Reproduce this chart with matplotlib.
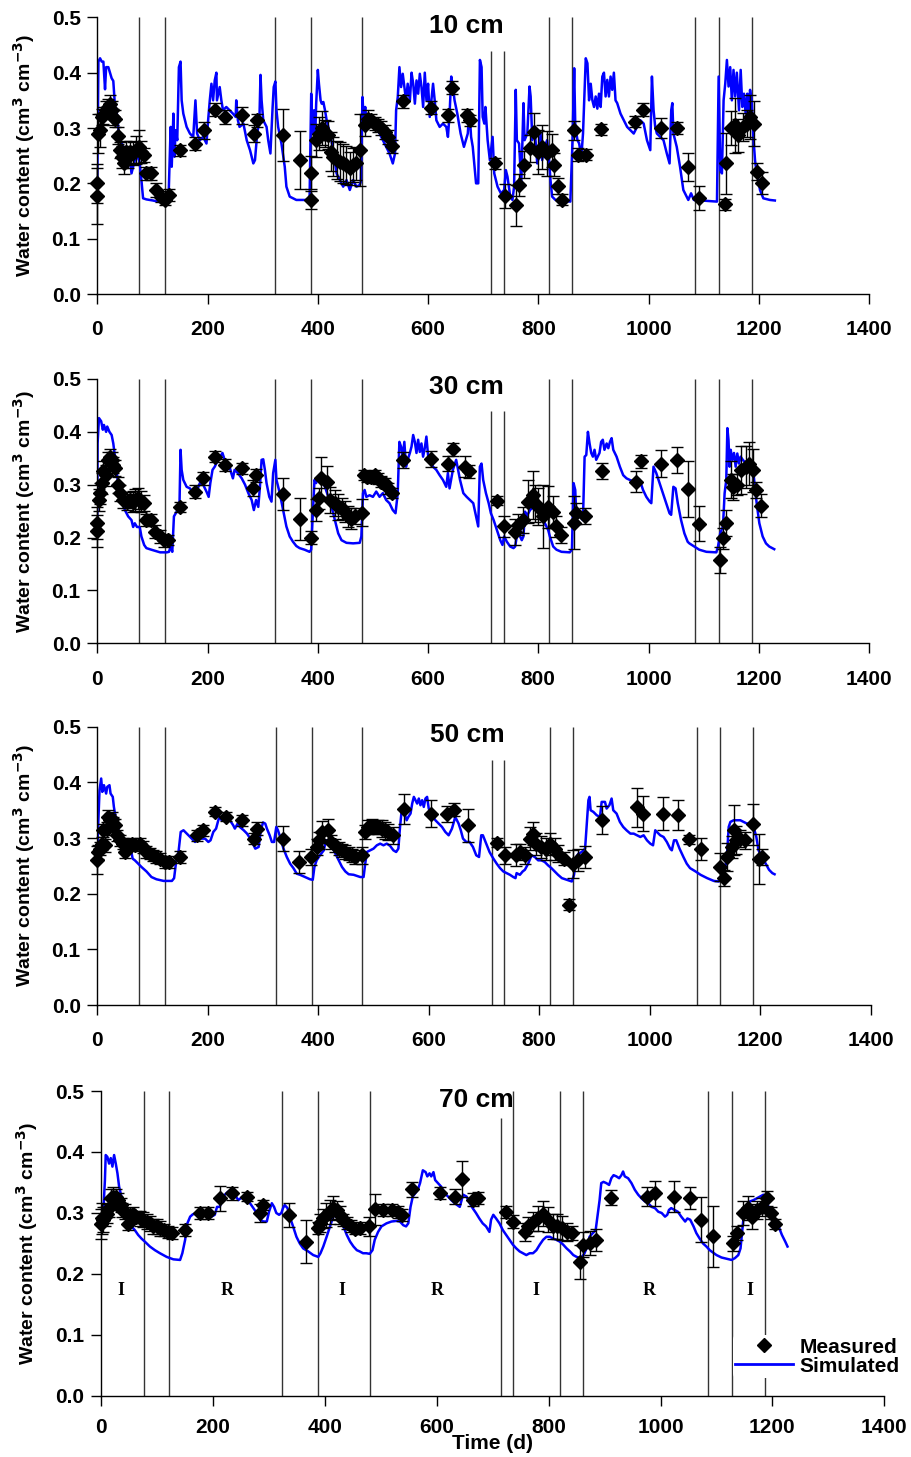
import numpy as np
import matplotlib
matplotlib.use('Agg')
import matplotlib.pyplot as plt
from matplotlib.lines import Line2D

plt.rcParams['font.family'] = ['Liberation Sans', 'DejaVu Sans']
plt.rcParams['font.weight'] = 'bold'

# ---- data ----
depth_labels = ['10 cm', '30 cm', '50 cm', '70 cm']
event_days = [76, 122, 323, 388, 480, 714, 737, 820, 861, 1085, 1128, 1187]
# lines that do not reach the top of a panel: {panel: {day: top}}
short_lines = [{714: 0.44, 737: 0.44}, {714: 0.44, 737: 0.44},
               {714: 0.44, 737: 0.44}, {714: 0.455}]
period_labels = ['I', 'R', 'I', 'R', 'I', 'R', 'I']
period_days = [36, 226, 431, 601, 777, 979, 1159]

sim10 = np.array([(0,0.20),(1,0.30),(2,0.42),(5,0.426),(8,0.42),(11,0.42),(14,0.37),(16,0.41),(20,0.41),(23,0.40),(26,0.39),(29,0.385),(32,0.34),(35,0.33),(38,0.30),(41,0.28),(47,0.266),(53,0.254),(59,0.248),(62,0.218),(68,0.242),(74,0.248),(77,0.236),(80,0.206),(83,0.173),(89,0.171),(101,0.169),(114,0.166),(129,0.166),(133,0.302),(135,0.23),(138,0.326),(140,0.248),(142,0.296),(145,0.278),(148,0.41),(151,0.42),(153,0.35),(156,0.326),(162,0.302),(168,0.29),(174,0.284),(178,0.35),(181,0.29),(186,0.278),(192,0.284),(198,0.272),(201,0.314),(204,0.35),(207,0.38),(210,0.35),(213,0.386),(216,0.40),(217,0.35),(222,0.374),(225,0.35),(228,0.332),(234,0.338),(240,0.332),(246,0.326),(251,0.32),(252,0.35),(255,0.314),(258,0.302),(265,0.308),(271,0.278),(277,0.26),(283,0.236),(286,0.242),(290,0.29),(294,0.314),(296,0.396),(298,0.35),(301,0.314),(307,0.302),(310,0.278),(314,0.254),(318,0.338),(320,0.374),(323,0.384),(325,0.332),(328,0.302),(334,0.272),(340,0.23),(343,0.194),(349,0.176),(361,0.17),(385,0.17),(388,0.362),(390,0.29),(393,0.332),(395,0.278),(397,0.344),(400,0.405),(402,0.38),(405,0.35),(407,0.344),(410,0.347),(413,0.332),(416,0.314),(422,0.29),(428,0.26),(434,0.218),(440,0.206),(446,0.194),(452,0.206),(458,0.188),(464,0.206),(470,0.194),(476,0.197),(478,0.203),(481,0.356),(483,0.32),(486,0.338),(488,0.314),(494,0.32),(500,0.302),(506,0.308),(512,0.29),(518,0.278),(524,0.266),(530,0.254),(536,0.236),(540,0.254),(542,0.332),(545,0.356),(548,0.41),(551,0.374),(554,0.398),(557,0.374),(560,0.35),(563,0.38),(567,0.35),(570,0.40),(573,0.38),(576,0.344),(579,0.386),(582,0.362),(585,0.398),(588,0.374),(591,0.338),(594,0.40),(597,0.35),(600,0.38),(603,0.32),(609,0.38),(612,0.35),(615,0.314),(621,0.302),(627,0.308),(633,0.302),(636,0.284),(639,0.326),(642,0.393),(645,0.374),(648,0.35),(653,0.326),(659,0.29),(665,0.266),(672,0.29),(675,0.332),(678,0.284),(681,0.266),(687,0.20),(691,0.20),(694,0.423),(697,0.41),(699,0.32),(702,0.308),(704,0.338),(708,0.278),(712,0.242),(717,0.284),(720,0.218),(726,0.194),(732,0.182),(738,0.188),(741,0.224),(744,0.212),(749,0.176),(753,0.17),(756,0.194),(759,0.369),(761,0.278),(765,0.272),(769,0.20),(773,0.345),(775,0.278),(780,0.29),(784,0.375),(786,0.357),(789,0.278),(793,0.302),(798,0.236),(801,0.248),(804,0.29),(807,0.242),(811,0.266),(816,0.278),(819,0.248),(822,0.206),(825,0.176),(831,0.17),(858,0.167),(862,0.278),(865,0.408),(867,0.302),(871,0.278),(874,0.272),(878,0.248),(881,0.29),(886,0.426),(889,0.417),(892,0.35),(895,0.38),(898,0.35),(901,0.338),(904,0.357),(907,0.335),(910,0.362),(913,0.338),(916,0.393),(919,0.40),(922,0.357),(925,0.387),(928,0.357),(931,0.393),(934,0.369),(937,0.40),(940,0.35),(943,0.345),(949,0.326),(955,0.314),(961,0.302),(967,0.296),(973,0.29),(979,0.302),(985,0.314),(991,0.308),(997,0.278),(1003,0.26),(1006,0.393),(1009,0.332),(1012,0.302),(1015,0.29),(1021,0.284),(1027,0.278),(1033,0.254),(1038,0.236),(1041,0.332),(1043,0.345),(1045,0.29),(1051,0.266),(1057,0.23),(1063,0.188),(1069,0.176),(1072,0.17),(1077,0.182),(1082,0.17),(1124,0.167),(1127,0.393),(1130,0.224),(1133,0.218),(1136,0.35),(1139,0.38),(1142,0.423),(1145,0.375),(1148,0.41),(1151,0.35),(1154,0.405),(1157,0.357),(1160,0.40),(1164,0.332),(1167,0.405),(1170,0.338),(1173,0.362),(1176,0.326),(1179,0.362),(1181,0.314),(1184,0.369),(1187,0.35),(1190,0.284),(1193,0.242),(1196,0.218),(1199,0.206),(1202,0.188),(1208,0.173),(1220,0.17),(1229,0.169)])

sim30 = np.array([(0,0.233),(0.5,0.378),(3,0.426),(7,0.42),(10,0.404),(12,0.413),(16,0.40),(18,0.41),(22,0.40),(26,0.394),(29,0.378),(32,0.353),(35,0.328),(38,0.296),(44,0.271),(50,0.252),(56,0.24),(62,0.233),(65,0.22),(68,0.227),(72,0.22),(77,0.22),(80,0.202),(85,0.186),(89,0.18),(98,0.177),(114,0.172),(126,0.172),(130,0.173),(133,0.183),(136,0.173),(139,0.24),(144,0.249),(149,0.258),(151,0.366),(153,0.328),(156,0.309),(162,0.296),(168,0.293),(174,0.284),(177,0.277),(180,0.287),(186,0.303),(192,0.30),(198,0.287),(202,0.277),(205,0.303),(209,0.328),(213,0.334),(219,0.347),(223,0.353),(227,0.36),(231,0.347),(234,0.34),(240,0.334),(243,0.322),(246,0.312),(249,0.328),(255,0.322),(262,0.312),(268,0.30),(274,0.284),(280,0.271),(284,0.252),(288,0.271),(292,0.258),(295,0.296),(298,0.347),(301,0.348),(304,0.328),(307,0.303),(312,0.277),(316,0.268),(319,0.322),(323,0.347),(325,0.309),(331,0.284),(337,0.252),(343,0.221),(349,0.202),(355,0.192),(361,0.184),(367,0.18),(376,0.177),(385,0.173),(388,0.177),(391,0.246),(394,0.309),(397,0.303),(400,0.315),(406,0.309),(413,0.296),(419,0.277),(425,0.258),(431,0.233),(437,0.208),(443,0.195),(452,0.19),(464,0.189),(476,0.19),(479,0.202),(482,0.284),(485,0.29),(488,0.277),(494,0.28),(500,0.277),(506,0.287),(512,0.277),(518,0.284),(524,0.271),(530,0.265),(536,0.252),(541,0.246),(545,0.284),(548,0.381),(551,0.372),(554,0.353),(557,0.381),(560,0.334),(563,0.347),(567,0.36),(570,0.372),(573,0.394),(576,0.381),(579,0.36),(582,0.385),(585,0.362),(588,0.378),(591,0.353),(594,0.369),(597,0.391),(600,0.356),(603,0.347),(609,0.334),(615,0.328),(621,0.318),(627,0.309),(633,0.296),(636,0.322),(639,0.293),(645,0.328),(651,0.347),(658,0.309),(664,0.284),(670,0.277),(676,0.271),(682,0.265),(687,0.24),(691,0.221),(694,0.334),(697,0.34),(700,0.309),(705,0.284),(710,0.265),(714,0.246),(719,0.233),(725,0.214),(731,0.195),(735,0.186),(738,0.202),(743,0.192),(749,0.183),(755,0.18),(758,0.183),(761,0.202),(764,0.208),(767,0.202),(770,0.195),(773,0.202),(776,0.249),(779,0.24),(785,0.252),(791,0.258),(796,0.265),(800,0.252),(806,0.24),(812,0.227),(818,0.214),(821,0.202),(827,0.183),(833,0.177),(842,0.173),(857,0.172),(861,0.177),(864,0.303),(867,0.29),(869,0.24),(875,0.24),(881,0.233),(884,0.353),(887,0.356),(890,0.40),(893,0.378),(896,0.36),(899,0.353),(902,0.366),(905,0.347),(911,0.36),(914,0.381),(917,0.385),(920,0.366),(924,0.378),(927,0.369),(930,0.381),(933,0.388),(936,0.366),(942,0.353),(948,0.334),(954,0.318),(960,0.312),(966,0.309),(972,0.306),(978,0.296),(984,0.309),(990,0.29),(996,0.277),(1002,0.268),(1005,0.265),(1009,0.334),(1014,0.322),(1020,0.303),(1026,0.284),(1032,0.265),(1038,0.246),(1041,0.243),(1045,0.296),(1049,0.293),(1053,0.265),(1059,0.233),(1065,0.208),(1071,0.192),(1074,0.189),(1083,0.183),(1092,0.177),(1105,0.173),(1123,0.172),(1126,0.183),(1130,0.208),(1135,0.221),(1138,0.284),(1141,0.309),(1143,0.407),(1145,0.385),(1147,0.334),(1149,0.366),(1152,0.347),(1155,0.36),(1158,0.334),(1161,0.359),(1164,0.34),(1167,0.353),(1171,0.347),(1177,0.34),(1183,0.334),(1188,0.328),(1191,0.315),(1194,0.284),(1197,0.258),(1201,0.227),(1207,0.202),(1213,0.189),(1219,0.183),(1228,0.178)])

sim50 = np.array([(0,0.26),(1,0.308),(4,0.386),(7,0.407),(9,0.383),(12,0.395),(16,0.38),(18,0.392),(22,0.395),(24,0.38),(28,0.374),(30,0.356),(34,0.332),(38,0.314),(44,0.302),(50,0.296),(56,0.29),(61,0.278),(64,0.263),(68,0.26),(74,0.254),(80,0.248),(89,0.24),(98,0.23),(107,0.226),(120,0.223),(135,0.223),(139,0.228),(143,0.26),(147,0.275),(151,0.311),(156,0.314),(162,0.308),(168,0.302),(177,0.293),(183,0.302),(189,0.299),(195,0.299),(201,0.293),(205,0.296),(210,0.311),(215,0.317),(219,0.332),(222,0.338),(225,0.332),(230,0.335),(234,0.329),(240,0.332),(246,0.323),(249,0.317),(254,0.326),(258,0.32),(265,0.314),(271,0.308),(277,0.299),(283,0.287),(286,0.281),(292,0.284),(296,0.314),(300,0.328),(304,0.326),(307,0.317),(312,0.305),(316,0.293),(320,0.293),(324,0.32),(327,0.314),(331,0.302),(337,0.281),(343,0.266),(349,0.254),(355,0.246),(361,0.236),(367,0.234),(376,0.23),(385,0.226),(390,0.225),(393,0.248),(397,0.26),(403,0.269),(410,0.278),(414,0.296),(419,0.296),(425,0.284),(431,0.272),(437,0.26),(443,0.248),(449,0.24),(455,0.235),(464,0.234),(476,0.23),(482,0.23),(485,0.254),(488,0.275),(494,0.278),(500,0.281),(506,0.287),(512,0.29),(518,0.287),(524,0.29),(530,0.286),(536,0.278),(541,0.275),(545,0.281),(548,0.32),(551,0.35),(554,0.353),(557,0.341),(560,0.332),(563,0.338),(567,0.344),(570,0.362),(573,0.374),(576,0.368),(579,0.362),(582,0.371),(585,0.359),(588,0.368),(591,0.356),(594,0.371),(597,0.374),(600,0.353),(606,0.341),(612,0.332),(618,0.326),(624,0.32),(630,0.311),(636,0.305),(642,0.317),(648,0.338),(654,0.326),(658,0.314),(662,0.299),(668,0.293),(674,0.293),(680,0.284),(686,0.269),(691,0.266),(695,0.305),(698,0.305),(704,0.29),(710,0.275),(717,0.263),(723,0.254),(729,0.246),(735,0.24),(741,0.237),(747,0.234),(753,0.23),(757,0.228),(759,0.237),(765,0.234),(770,0.24),(774,0.243),(780,0.254),(786,0.269),(792,0.266),(798,0.26),(804,0.26),(810,0.257),(816,0.251),(822,0.246),(828,0.24),(834,0.234),(841,0.228),(850,0.225),(859,0.222),(863,0.234),(867,0.266),(871,0.272),(877,0.275),(883,0.281),(886,0.326),(889,0.368),(891,0.374),(893,0.35),(898,0.347),(904,0.341),(910,0.338),(913,0.365),(919,0.365),(922,0.353),(927,0.359),(931,0.371),(934,0.35),(940,0.344),(946,0.329),(952,0.32),(958,0.314),(965,0.308),(971,0.308),(977,0.305),(983,0.302),(989,0.305),(995,0.296),(1001,0.29),(1006,0.287),(1010,0.314),(1013,0.311),(1019,0.305),(1025,0.302),(1031,0.293),(1037,0.281),(1040,0.278),(1044,0.296),(1048,0.296),(1054,0.281),(1061,0.266),(1067,0.254),(1073,0.246),(1083,0.24),(1092,0.234),(1104,0.228),(1116,0.223),(1125,0.222),(1129,0.226),(1133,0.237),(1137,0.248),(1140,0.272),(1143,0.32),(1146,0.329),(1152,0.332),(1158,0.332),(1164,0.332),(1170,0.329),(1176,0.326),(1182,0.326),(1188,0.32),(1193,0.302),(1197,0.278),(1203,0.266),(1210,0.254),(1216,0.243),(1222,0.237),(1226,0.235)])

sim70 = np.array([(0,0.283),(3.6,0.30),(6.6,0.354),(8,0.395),(11,0.392),(14,0.381),(17,0.39),(20,0.376),(23,0.395),(26,0.381),(29,0.365),(32,0.343),(36,0.327),(42,0.305),(48,0.289),(54,0.278),(60,0.272),(66,0.264),(72,0.258),(78,0.253),(87,0.245),(96,0.239),(105,0.234),(117,0.228),(129,0.224),(141,0.223),(145,0.234),(150,0.256),(154,0.283),(159,0.294),(164,0.298),(176,0.30),(185,0.297),(191,0.294),(197,0.294),(203,0.297),(207,0.31),(212,0.31),(216,0.324),(221,0.33),(227,0.335),(233,0.335),(239,0.33),(245,0.321),(249,0.324),(254,0.327),(260,0.321),(266,0.316),(272,0.308),(278,0.30),(284,0.289),(290,0.286),(296,0.286),(300,0.302),(305,0.316),(309,0.31),(313,0.30),(318,0.297),(322,0.30),(325,0.308),(328,0.313),(333,0.308),(337,0.294),(343,0.278),(349,0.261),(355,0.25),(361,0.242),(370,0.237),(379,0.231),(388,0.228),(392,0.234),(397,0.245),(403,0.261),(409,0.278),(413,0.289),(418,0.30),(422,0.302),(427,0.294),(433,0.278),(439,0.264),(445,0.253),(451,0.245),(457,0.239),(462,0.237),(468,0.234),(474,0.234),(480,0.233),(485,0.239),(489,0.256),(495,0.269),(501,0.278),(510,0.283),(519,0.286),(528,0.287),(534,0.286),(540,0.28),(545,0.278),(549,0.283),(553,0.31),(557,0.327),(561,0.332),(566,0.338),(570,0.349),(575,0.37),(580,0.367),(583,0.36),(587,0.365),(590,0.36),(594,0.367),(597,0.354),(602,0.349),(608,0.343),(614,0.332),(620,0.327),(626,0.321),(632,0.316),(641,0.31),(647,0.33),(653,0.327),(659,0.316),(664,0.308),(670,0.30),(676,0.291),(682,0.283),(688,0.278),(694,0.269),(697,0.289),(701,0.297),(706,0.291),(712,0.283),(718,0.272),(724,0.264),(730,0.256),(736,0.248),(742,0.242),(748,0.237),(754,0.234),(760,0.231),(766,0.234),(772,0.234),(778,0.239),(784,0.248),(790,0.256),(796,0.261),(802,0.261),(808,0.258),(814,0.256),(820,0.253),(826,0.248),(832,0.242),(838,0.237),(844,0.231),(850,0.228),(856,0.226),(860,0.228),(864,0.234),(869,0.245),(873,0.261),(879,0.267),(884,0.272),(888,0.30),(891,0.321),(894,0.349),(898,0.351),(903,0.349),(908,0.346),(912,0.357),(916,0.362),(921,0.36),(926,0.357),(930,0.362),(933,0.368),(936,0.36),(942,0.357),(948,0.349),(954,0.338),(960,0.33),(966,0.324),(972,0.319),(978,0.316),(984,0.31),(990,0.308),(996,0.302),(1002,0.30),(1008,0.294),(1012,0.297),(1015,0.305),(1019,0.308),(1025,0.305),(1031,0.302),(1037,0.294),(1044,0.286),(1048,0.291),(1053,0.289),(1059,0.278),(1064,0.267),(1070,0.258),(1076,0.25),(1082,0.245),(1088,0.239),(1094,0.235),(1100,0.231),(1109,0.227),(1118,0.225),(1127,0.223),(1133,0.226),(1139,0.231),(1143,0.242),(1145,0.261),(1148,0.289),(1151,0.308),(1155,0.313),(1160,0.319),(1166,0.321),(1172,0.324),(1178,0.327),(1184,0.33),(1189,0.321),(1193,0.31),(1199,0.30),(1205,0.289),(1211,0.278),(1217,0.264),(1223,0.253),(1227,0.245)])

# measured: (day, water content, error)
meas10 = np.array([(0,0.177,0.05),(0,0.20,0.035),(2,0.29,0.035),(5,0.296,0.03),(8,0.32,0.015),(11,0.323,0.015),(16,0.333,0.015),(20,0.338,0.015),(23,0.344,0.015),(26,0.333,0.015),(29,0.32,0.015),(32,0.317,0.015),(38,0.286,0.015),(41,0.26,0.015),(44,0.248,0.02),(48,0.236,0.02),(52,0.257,0.02),(56,0.248,0.02),(60,0.257,0.02),(65,0.254,0.02),(71,0.26,0.025),(76,0.266,0.03),(80,0.257,0.02),(85,0.251,0.012),(89,0.218,0.012),(98,0.218,0.012),(107,0.188,0.012),(115,0.176,0.01),(123,0.17,0.01),(130,0.179,0.01),(150,0.26,0.01),(177,0.272,0.012),(193,0.296,0.015),(213,0.333,0.012),(232,0.32,0.012),(263,0.323,0.015),(284,0.29,0.015),(289,0.314,0.012),(336,0.287,0.047),(367,0.242,0.053),(388,0.219,0.03),(388,0.17,0.017),(397,0.278,0.03),(403,0.29,0.03),(407,0.30,0.03),(413,0.29,0.025),(419,0.287,0.025),(423,0.257,0.035),(428,0.248,0.035),(434,0.242,0.035),(440,0.239,0.035),(446,0.236,0.035),(452,0.233,0.035),(458,0.227,0.03),(464,0.233,0.03),(470,0.236,0.03),(477,0.26,0.065),(485,0.305,0.02),(491,0.317,0.015),(497,0.314,0.012),(503,0.308,0.012),(509,0.305,0.012),(515,0.30,0.012),(521,0.293,0.012),(527,0.284,0.012),(535,0.267,0.012),(554,0.348,0.012),(606,0.337,0.012),(636,0.323,0.012),(644,0.373,0.012),(670,0.323,0.012),(676,0.314,0.01),(722,0.236,0.01),(739,0.177,0.022),(760,0.16,0.037),(765,0.197,0.02),(774,0.234,0.025),(784,0.263,0.025),(792,0.293,0.035),(799,0.257,0.04),(807,0.266,0.04),(816,0.254,0.04),(825,0.26,0.03),(828,0.234,0.02),(836,0.195,0.015),(842,0.17,0.01),(864,0.296,0.017),(872,0.252,0.012),(886,0.252,0.01),(914,0.298,0.01),(976,0.311,0.01),(990,0.333,0.012),(1023,0.30,0.018),(1051,0.30,0.01),(1071,0.229,0.025),(1092,0.174,0.022),(1138,0.162,0.01),(1140,0.236,0.055),(1150,0.30,0.03),(1157,0.305,0.05),(1163,0.287,0.03),(1171,0.302,0.025),(1178,0.308,0.025),(1184,0.32,0.04),(1191,0.308,0.04),(1196,0.221,0.015),(1205,0.20,0.02)])

meas30 = np.array([(0,0.213,0.03),(0,0.227,0.03),(3,0.271,0.02),(5,0.284,0.02),(8,0.303,0.02),(11,0.325,0.02),(16,0.318,0.02),(20,0.347,0.015),(23,0.353,0.015),(26,0.347,0.015),(29,0.337,0.015),(32,0.331,0.015),(38,0.30,0.015),(42,0.284,0.015),(47,0.271,0.015),(53,0.268,0.015),(59,0.271,0.015),(64,0.268,0.02),(68,0.271,0.02),(74,0.274,0.02),(80,0.268,0.02),(85,0.265,0.015),(89,0.233,0.012),(98,0.233,0.012),(104,0.211,0.012),(114,0.202,0.012),(121,0.195,0.012),(129,0.195,0.01),(150,0.258,0.01),(177,0.287,0.012),(192,0.312,0.012),(213,0.353,0.01),(231,0.337,0.012),(262,0.331,0.01),(283,0.293,0.015),(288,0.318,0.012),(336,0.282,0.03),(367,0.235,0.04),(387,0.20,0.012),(397,0.252,0.02),(403,0.274,0.02),(406,0.312,0.04),(417,0.306,0.03),(423,0.271,0.025),(431,0.265,0.025),(437,0.258,0.025),(443,0.255,0.02),(449,0.249,0.02),(455,0.24,0.02),(461,0.236,0.02),(467,0.24,0.015),(481,0.247,0.025),(484,0.318,0.01),(490,0.315,0.01),(497,0.314,0.01),(503,0.318,0.01),(509,0.312,0.01),(515,0.306,0.01),(521,0.303,0.01),(527,0.293,0.01),(535,0.284,0.01),(554,0.347,0.015),(606,0.349,0.015),(636,0.34,0.015),(646,0.367,0.012),(667,0.334,0.02),(675,0.325,0.012),(725,0.27,0.008),(737,0.221,0.02),(758,0.211,0.025),(764,0.224,0.02),(772,0.233,0.025),(782,0.268,0.04),(790,0.281,0.045),(794,0.265,0.035),(800,0.258,0.035),(809,0.24,0.06),(818,0.258,0.04),(827,0.249,0.03),(833,0.221,0.02),(841,0.205,0.015),(864,0.228,0.05),(869,0.246,0.02),(884,0.24,0.015),(915,0.326,0.015),(978,0.306,0.02),(987,0.344,0.012),(1023,0.34,0.025),(1051,0.347,0.025),(1071,0.291,0.053),(1092,0.226,0.033),(1129,0.158,0.025),(1135,0.199,0.02),(1141,0.228,0.025),(1150,0.309,0.035),(1153,0.296,0.025),(1160,0.30,0.02),(1168,0.328,0.045),(1177,0.334,0.04),(1183,0.34,0.04),(1190,0.327,0.04),(1195,0.29,0.015),(1204,0.26,0.022)])

meas50 = np.array([(0,0.26,0.025),(2,0.275,0.012),(5,0.281,0.012),(8,0.29,0.012),(11,0.314,0.012),(14,0.287,0.012),(17,0.317,0.012),(20,0.338,0.012),(23,0.332,0.012),(26,0.335,0.012),(29,0.326,0.012),(32,0.323,0.012),(36,0.305,0.01),(41,0.296,0.01),(46,0.29,0.01),(50,0.275,0.01),(56,0.287,0.01),(62,0.29,0.01),(68,0.287,0.01),(77,0.29,0.01),(83,0.284,0.01),(89,0.275,0.01),(95,0.272,0.01),(101,0.269,0.01),(107,0.266,0.01),(114,0.263,0.01),(123,0.257,0.01),(130,0.257,0.01),(150,0.266,0.01),(180,0.305,0.01),(192,0.314,0.01),(213,0.347,0.008),(233,0.338,0.008),(262,0.332,0.01),(284,0.299,0.01),(289,0.317,0.012),(336,0.299,0.022),(366,0.257,0.02),(387,0.266,0.015),(397,0.284,0.015),(402,0.296,0.015),(406,0.311,0.02),(417,0.314,0.02),(423,0.293,0.012),(431,0.287,0.012),(437,0.281,0.012),(443,0.278,0.012),(449,0.275,0.012),(455,0.272,0.012),(461,0.269,0.012),(467,0.266,0.012),(479,0.269,0.015),(484,0.311,0.012),(490,0.32,0.012),(497,0.322,0.012),(503,0.319,0.012),(509,0.32,0.012),(515,0.317,0.015),(521,0.314,0.015),(527,0.311,0.015),(536,0.305,0.015),(556,0.353,0.027),(604,0.344,0.025),(633,0.343,0.015),(645,0.351,0.012),(671,0.323,0.03),(723,0.292,0.008),(738,0.269,0.015),(758,0.269,0.02),(765,0.275,0.015),(774,0.269,0.015),(783,0.299,0.02),(789,0.308,0.02),(795,0.29,0.02),(804,0.284,0.02),(813,0.281,0.02),(819,0.29,0.02),(828,0.281,0.02),(834,0.272,0.015),(844,0.263,0.012),(854,0.18,0.01),(862,0.253,0.025),(871,0.26,0.02),(883,0.266,0.02),(913,0.332,0.025),(977,0.355,0.035),(988,0.344,0.032),(1024,0.344,0.03),(1052,0.341,0.027),(1071,0.298,0.008),(1093,0.28,0.02),(1128,0.248,0.025),(1134,0.228,0.015),(1140,0.266,0.025),(1149,0.284,0.02),(1153,0.314,0.045),(1157,0.296,0.025),(1164,0.299,0.015),(1173,0.296,0.015),(1187,0.325,0.037),(1197,0.262,0.045),(1204,0.266,0.015)])

meas70 = np.array([(0,0.282,0.025),(1,0.291,0.025),(4,0.289,0.02),(7,0.294,0.015),(11,0.299,0.015),(14,0.308,0.015),(18,0.324,0.015),(21,0.327,0.015),(26,0.327,0.012),(30,0.321,0.012),(35,0.313,0.012),(38,0.305,0.012),(42,0.302,0.012),(48,0.282,0.01),(52,0.297,0.01),(57,0.299,0.01),(63,0.294,0.01),(69,0.291,0.012),(75,0.289,0.012),(81,0.286,0.012),(87,0.283,0.012),(93,0.278,0.012),(99,0.278,0.012),(105,0.275,0.012),(112,0.272,0.01),(120,0.269,0.01),(126,0.267,0.01),(150,0.272,0.01),(176,0.30,0.01),(191,0.30,0.01),(212,0.324,0.02),(233,0.332,0.01),(260,0.327,0.008),(284,0.30,0.015),(290,0.313,0.008),(336,0.297,0.02),(366,0.253,0.035),(388,0.275,0.01),(391,0.283,0.015),(396,0.291,0.015),(402,0.297,0.02),(409,0.302,0.02),(415,0.308,0.02),(421,0.305,0.015),(427,0.297,0.015),(433,0.289,0.01),(439,0.283,0.01),(446,0.279,0.01),(454,0.273,0.008),(462,0.275,0.01),(479,0.278,0.015),(489,0.306,0.025),(504,0.305,0.01),(519,0.305,0.01),(531,0.302,0.01),(537,0.297,0.01),(556,0.339,0.012),(606,0.333,0.01),(632,0.327,0.012),(645,0.356,0.03),(665,0.322,0.01),(673,0.324,0.01),(724,0.302,0.01),(736,0.286,0.01),(757,0.269,0.015),(763,0.278,0.015),(772,0.286,0.015),(781,0.291,0.02),(790,0.299,0.02),(799,0.289,0.02),(808,0.278,0.02),(814,0.278,0.02),(823,0.275,0.02),(832,0.269,0.015),(841,0.267,0.012),(856,0.219,0.028),(861,0.248,0.02),(873,0.251,0.02),(885,0.256,0.018),(912,0.325,0.012),(975,0.327,0.015),(990,0.332,0.02),(1024,0.327,0.025),(1053,0.325,0.018),(1073,0.289,0.037),(1093,0.262,0.05),(1129,0.25,0.012),(1137,0.267,0.012),(1148,0.30,0.02),(1157,0.308,0.02),(1163,0.294,0.02),(1172,0.305,0.015),(1181,0.31,0.015),(1190,0.324,0.012),(1197,0.30,0.01),(1205,0.282,0.008)])

sims = [sim10, sim30, sim50, sim70]
meas = [meas10, meas30, meas50, meas70]

# axes rectangles in figure fraction (left, bottom, width, height)
rects = [(0.1067, 0.7982, 0.8463, 0.1899),
         (0.1067, 0.5585, 0.8462, 0.1814),
         (0.1067, 0.3102, 0.8480, 0.1910),
         (0.1110, 0.0419, 0.8586, 0.2093)]

fig = plt.figure(figsize=(9.12, 14.57), dpi=100)

for i in range(4):
    ax = fig.add_axes(rects[i])
    # event lines
    tops = [short_lines[i].get(d, 0.5) for d in event_days]
    ax.vlines(event_days, 0, tops, colors='#333333', lw=1.0, zorder=1)
    # simulated
    ax.plot(sims[i][:, 0], sims[i][:, 1], color='#0000ff', lw=1.8, zorder=2)
    # measured
    m = meas[i]
    ax.errorbar(m[:, 0], m[:, 1], yerr=m[:, 2], fmt='D', color='black',
                ms=7.5, ecolor='black', elinewidth=1, capsize=4, capthick=1,
                zorder=3, clip_on=False)
    ax.text(670, 0.485, depth_labels[i], ha='center', va='center',
            fontsize=19, fontweight='bold')

    ax.set_xlim(0, 1400)
    ax.set_ylim(0, 0.5)
    ax.set_xticks(np.arange(0, 1401, 200))
    ax.set_yticks(np.arange(0, 0.51, 0.1))
    ax.set_yticklabels(['%.1f' % v for v in np.arange(0, 0.51, 0.1)])
    for s in ['top', 'right']:
        ax.spines[s].set_visible(False)
    ax.spines['left'].set_linewidth(1)
    ax.spines['bottom'].set_linewidth(1)
    ax.tick_params(axis='both', direction='out', length=7, width=1,
                   labelsize=15)
    ax.tick_params(axis='x', pad=12 if i < 3 else 9)
    ax.tick_params(axis='y', pad=5)
    ax.set_ylabel('Water content (cm$^\\mathbf{3}$ cm$^\\mathbf{-3}$)',
                  fontsize=14, fontweight='bold')
    ax.yaxis.set_label_coords(-0.078, 0.5)

    if i == 3:
        ax.set_xlabel('Time (d)', fontsize=15, fontweight='bold', labelpad=-2)
        for lab, d in zip(period_labels, period_days):
            ax.text(d, 0.173, lab, ha='center', va='center', fontsize=13,
                    fontweight='bold', family=['Liberation Serif', 'DejaVu Serif'])
        handles = [Line2D([], [], marker='D', color='black', ls='none', ms=7),
                   Line2D([], [], color='#0000ff', lw=2)]
        leg = ax.legend(handles, ['Measured', 'Simulated'], loc='lower right',
                        bbox_to_anchor=(1.022, 0.06), frameon=True,
                        fontsize=15, handlelength=2.8, handletextpad=0.3,
                        labelspacing=0.0, borderpad=0.1, borderaxespad=0)
        leg.get_frame().set_edgecolor('none')
        leg.get_frame().set_facecolor('white')
        leg.get_frame().set_alpha(1)
        leg.set_zorder(5)

fig.savefig('out.png', dpi=100)
